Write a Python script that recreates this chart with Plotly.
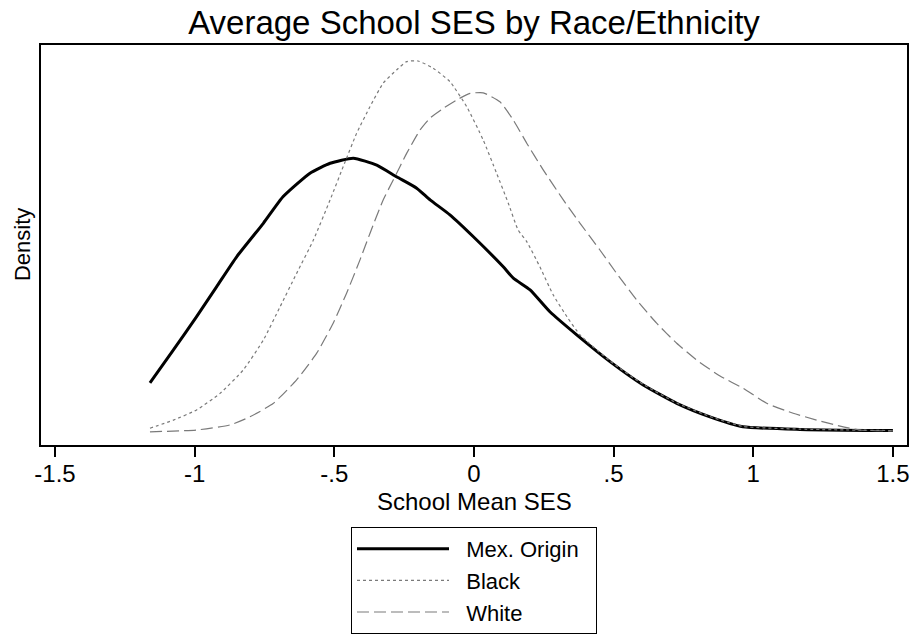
import plotly.graph_objects as go

# ---- data ----
mex_x = [-1.160, -1.076, -0.993, -0.921, -0.849, -0.754, -0.683, -0.587, -0.515, -0.432,
         -0.348, -0.277, -0.205, -0.157, -0.086, -0.002, 0.105, 0.141, 0.201, 0.272,
         0.368, 0.487, 0.606, 0.726, 0.845, 0.963, 1.167, 1.500]
mex_y = [0.167, 0.277, 0.388, 0.488, 0.588, 0.699, 0.788, 0.866, 0.899, 0.916,
         0.893, 0.854, 0.816, 0.777, 0.727, 0.654, 0.554, 0.516, 0.477, 0.404,
         0.327, 0.238, 0.160, 0.099, 0.054, 0.021, 0.012, 0.008]

black_x = [-1.160, -1.076, -0.993, -0.909, -0.826, -0.754, -0.694, -0.635, -0.575, -0.515,
           -0.468, -0.420, -0.372, -0.325, -0.277, -0.241, -0.200, -0.146, -0.086, -0.026,
           0.033, 0.081, 0.123, 0.158, 0.189, 0.236, 0.284, 0.337, 0.380, 0.487,
           0.606, 0.726, 0.845, 0.963, 1.167, 1.500]
black_y = [0.016, 0.043, 0.077, 0.132, 0.210, 0.310, 0.421, 0.532, 0.643, 0.777,
           0.888, 0.999, 1.088, 1.166, 1.210, 1.238, 1.240, 1.216, 1.171, 1.088,
           0.977, 0.866, 0.766, 0.677, 0.638, 0.554, 0.460, 0.382, 0.327, 0.240,
           0.162, 0.100, 0.055, 0.022, 0.013, 0.008]

white_x = [-1.160, -0.993, -0.873, -0.802, -0.718, -0.635, -0.563, -0.504, -0.456, -0.408,
           -0.372, -0.325, -0.289, -0.241, -0.193, -0.157, -0.110, -0.062, -0.014, 0.033,
           0.093, 0.141, 0.189, 0.248, 0.320, 0.380, 0.451, 0.511, 0.583, 0.654,
           0.726, 0.802, 0.881, 0.964, 1.048, 1.143, 1.227, 1.311, 1.382, 1.500]
white_y = [0.004, 0.010, 0.027, 0.054, 0.099, 0.177, 0.266, 0.366, 0.466, 0.577,
           0.666, 0.777, 0.843, 0.932, 1.010, 1.050, 1.082, 1.110, 1.132, 1.134,
           1.104, 1.043, 0.966, 0.877, 0.777, 0.699, 0.610, 0.532, 0.443, 0.366,
           0.299, 0.240, 0.190, 0.149, 0.099, 0.066, 0.043, 0.023, 0.010, 0.007]

series_names = ["Mex. Origin", "Black", "White"]

x_tickvals = [-1.5, -1, -0.5, 0, 0.5, 1, 1.5]
x_ticktext = ["-1.5", "-1", "-.5", "0", ".5", "1", "1.5"]

FONT = "Liberation Sans, Arial, sans-serif"
NB = "\u00a0"

fig = go.Figure()
fig.add_trace(go.Scatter(x=mex_x, y=mex_y, mode="lines", name=NB * 2 + series_names[0] + NB * 2,
                         line=dict(color="black", width=3, shape="spline", smoothing=0.5)))
fig.add_trace(go.Scatter(x=black_x, y=black_y, mode="lines", name=NB * 2 + series_names[1] + NB * 2,
                         line=dict(color="#7a7a7a", width=1.2, dash="3px,3px",
                                   shape="spline", smoothing=0.5)))
fig.add_trace(go.Scatter(x=white_x, y=white_y, mode="lines", name=NB * 2 + series_names[2] + NB * 2,
                         line=dict(color="#7a7a7a", width=1.2, dash="12px,5px",
                                   shape="spline", smoothing=0.5)))

fig.update_layout(
    width=915, height=638,
    margin=dict(l=41, r=8, t=45, b=193, autoexpand=False),
    paper_bgcolor="white", plot_bgcolor="white",
    font=dict(family=FONT, color="black"),
    title=dict(text="Average School SES by Race/Ethnicity", x=0.5, xref="paper",
               y=1 - 22 / 638, yref="container", yanchor="middle", xanchor="center",
               font=dict(size=33, color="black", family=FONT)),
    showlegend=True,
    legend=dict(x=0.5, xanchor="center", y=-0.205, yanchor="top",
                bordercolor="black", borderwidth=1, bgcolor="white",
                font=dict(size=22, color="black", family=FONT),
                itemwidth=92, tracegroupgap=0),
    xaxis=dict(range=[-1.5501, 1.5505], tickvals=x_tickvals, ticktext=x_ticktext,
               ticks="outside", ticklen=10, tickwidth=1.5, tickcolor="black",
               tickfont=dict(size=24, color="black"), ticklabelstandoff=-4,
               showline=True, linecolor="black", linewidth=2, mirror=True,
               showgrid=False, zeroline=False),
    yaxis=dict(range=[-0.04, 1.2933], showticklabels=False, ticks="",
               showline=True, linecolor="black", linewidth=2, mirror=True,
               showgrid=False, zeroline=False),
    annotations=[
        dict(text="School Mean SES", xref="paper", yref="paper", x=0.5, y=-0.14,
             xanchor="center", yanchor="middle", showarrow=False,
             font=dict(size=24, color="black", family=FONT)),
        dict(text="Density", xref="paper", yref="paper", x=-0.0219, y=0.5,
             xanchor="center", yanchor="middle", textangle=-90, showarrow=False,
             font=dict(size=22, color="black", family=FONT)),
    ],
)

fig.write_html("out.html", config={"displayModeBar": False},
               post_script="document.body.style.margin='0';document.body.style.overflow='hidden';")
